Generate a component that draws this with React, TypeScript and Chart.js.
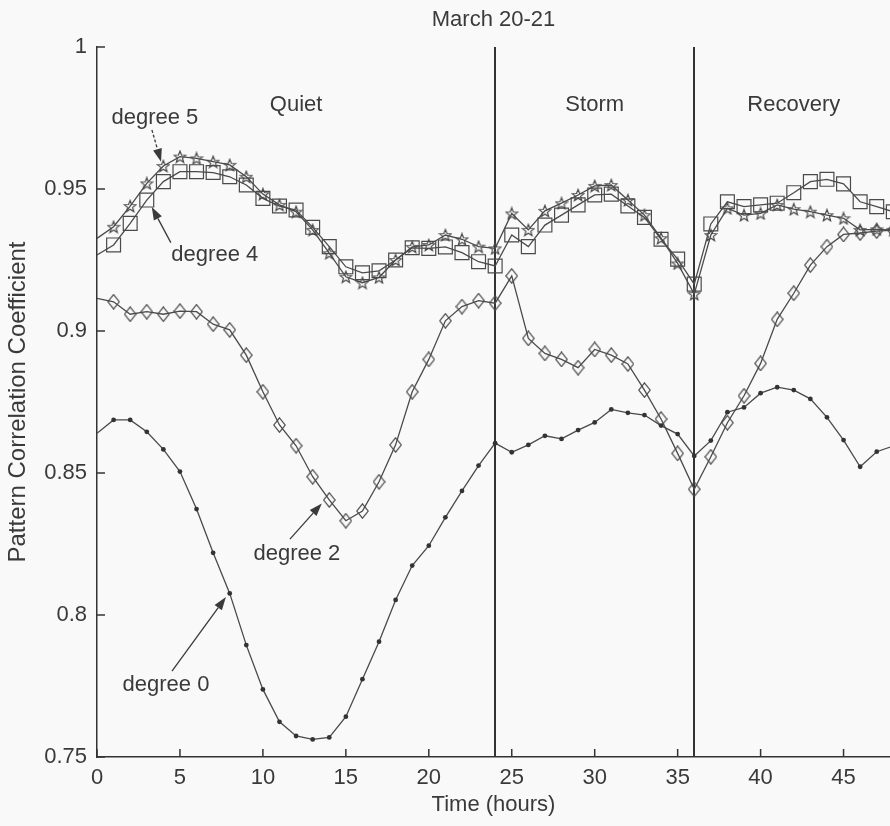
import React, { useEffect, useRef } from "react";
import { Chart, registerables } from "chart.js";

Chart.register(...registerables);

// ---- data ----
const hours = [0, 1, 2, 3, 4, 5, 6, 7, 8, 9, 10, 11, 12, 13, 14, 15, 16, 17, 18, 19, 20, 21, 22, 23, 24, 25, 26, 27, 28, 29, 30, 31, 32, 33, 34, 35, 36, 37, 38, 39, 40, 41, 42, 43, 44, 45, 46, 47, 48];

const degree0 = [0.864, 0.8687, 0.8687, 0.8645, 0.8583, 0.8505, 0.8373, 0.8219, 0.8076, 0.7894, 0.7738, 0.7624, 0.7574, 0.7562, 0.7569, 0.7642, 0.7774, 0.7906, 0.8053, 0.8174, 0.8244, 0.8344, 0.8437, 0.8526, 0.8605, 0.8573, 0.8599, 0.8631, 0.862, 0.8651, 0.8678, 0.8724, 0.8712, 0.8704, 0.8667, 0.8637, 0.856, 0.8614, 0.8714, 0.8731, 0.8781, 0.8802, 0.8792, 0.8761, 0.8696, 0.8616, 0.8522, 0.8575, 0.8595];

const degree2 = [0.9115, 0.9103, 0.9059, 0.9068, 0.9059, 0.907, 0.9068, 0.9024, 0.9004, 0.8915, 0.8786, 0.8669, 0.8596, 0.8487, 0.8405, 0.8332, 0.8366, 0.8469, 0.8599, 0.8786, 0.89, 0.9036, 0.9086, 0.9107, 0.9098, 0.9194, 0.8974, 0.8921, 0.89, 0.8871, 0.8935, 0.8915, 0.8884, 0.8792, 0.869, 0.8569, 0.8443, 0.8557, 0.8677, 0.8772, 0.8886, 0.9041, 0.9133, 0.9232, 0.9297, 0.934, 0.9345, 0.9352, 0.9355];

const degree4 = [0.9268, 0.9303, 0.9379, 0.9461, 0.9526, 0.9561, 0.9561, 0.9558, 0.9543, 0.9514, 0.9467, 0.944, 0.9426, 0.9365, 0.9297, 0.9226, 0.9205, 0.9212, 0.925, 0.9293, 0.9291, 0.9296, 0.9276, 0.9244, 0.9229, 0.9338, 0.9297, 0.9373, 0.9408, 0.9444, 0.9479, 0.9482, 0.944, 0.94, 0.9323, 0.9253, 0.9165, 0.9377, 0.9455, 0.9438, 0.9444, 0.945, 0.9487, 0.9526, 0.9534, 0.9518, 0.9455, 0.9438, 0.942];

const degree5 = [0.9326, 0.9367, 0.944, 0.952, 0.9581, 0.9614, 0.9608, 0.9596, 0.9585, 0.9543, 0.9482, 0.9444, 0.942, 0.9356, 0.9274, 0.9191, 0.917, 0.9189, 0.925, 0.9296, 0.9303, 0.9338, 0.9323, 0.9297, 0.9291, 0.9414, 0.9356, 0.9423, 0.945, 0.9479, 0.9511, 0.9514, 0.9461, 0.9408, 0.9327, 0.9238, 0.913, 0.9338, 0.9432, 0.9408, 0.9414, 0.9444, 0.9429, 0.942, 0.9408, 0.9397, 0.9356, 0.9358, 0.9356];

const xTicks = [0, 5, 10, 15, 20, 25, 30, 35, 40, 45];
const yTicks = [0.75, 0.8, 0.85, 0.9, 0.95, 1];
const xRange = [0, 47.8];
const yRange = [0.75, 1];

const phaseBoundaries = [24, 36];
const phaseLabels = ["Quiet", "Storm", "Recovery"];
const phaseCenters = [12, 30, 42];
const phaseLabelLevel = 0.9796;

const chartTitle = "March 20-21";
const xTitle = "Time (hours)";
const yTitle = "Pattern Correlation Coefficient";

const annotationTexts = ["degree 5", "degree 4", "degree 2", "degree 0"];
const annotationTextPos = [[3.49, 0.975], [7.1, 0.9269], [12.05, 0.8214], [4.16, 0.7753]];
const annotationArrowFrom = [[3.31, 0.9708], [4.45, 0.9311], [11.63, 0.8267], [4.52, 0.7802]];
const annotationArrowTo = [[3.86, 0.9596], [3.3, 0.9437], [13.55, 0.8393], [7.77, 0.8063]];
const annotationDashed = [true, false, false, false];

// ---- styles ----
const FONT = "'Liberation Sans', Arial, Helvetica, sans-serif";
const FONT_SIZE = 22;
const YTITLE_SIZE = 24;
const INK = "#3a3a3a";
const LINE = "#4a4a4a";

function makeStar(size: number, color: string) {
  const c = document.createElement("canvas");
  c.width = size;
  c.height = size;
  const g = c.getContext("2d")!;
  const cx = size / 2;
  const cy = size / 2 + 0.6;
  const R = size / 2 - 0.8;
  const r = R * 0.42;
  g.beginPath();
  for (let i = 0; i < 10; i++) {
    const a = -Math.PI / 2 + (i * Math.PI) / 5;
    const rr = i % 2 === 0 ? R : r;
    g.lineTo(cx + rr * Math.cos(a), cy + rr * Math.sin(a));
  }
  g.closePath();
  g.strokeStyle = color;
  g.lineWidth = 1.2;
  g.stroke();
  return c;
}

function makeDiamond(w: number, h: number, color: string) {
  const c = document.createElement("canvas");
  c.width = w;
  c.height = h;
  const g = c.getContext("2d")!;
  g.beginPath();
  g.moveTo(w / 2, 0.8);
  g.lineTo(w - 0.8, h / 2);
  g.lineTo(w / 2, h - 0.8);
  g.lineTo(0.8, h / 2);
  g.closePath();
  g.strokeStyle = color;
  g.lineWidth = 1.2;
  g.stroke();
  return c;
}

function drawArrow(ctx: CanvasRenderingContext2D, x1: number, y1: number, x2: number, y2: number, dashed: boolean) {
  const ang = Math.atan2(y2 - y1, x2 - x1);
  const headLen = 13;
  const headW = 4.5;
  const bx = x2 - headLen * Math.cos(ang);
  const by = y2 - headLen * Math.sin(ang);
  ctx.save();
  ctx.strokeStyle = INK;
  ctx.fillStyle = INK;
  ctx.lineWidth = 1.3;
  if (dashed) ctx.setLineDash([3, 2]);
  ctx.beginPath();
  ctx.moveTo(x1, y1);
  ctx.lineTo(bx, by);
  ctx.stroke();
  ctx.setLineDash([]);
  ctx.beginPath();
  ctx.moveTo(x2, y2);
  ctx.lineTo(bx + headW * Math.sin(ang), by - headW * Math.cos(ang));
  ctx.lineTo(bx - headW * Math.sin(ang), by + headW * Math.cos(ang));
  ctx.closePath();
  ctx.fill();
  ctx.restore();
}

const overlayPlugin = {
  id: "overlay",
  beforeDraw(chart: any) {
    const ctx = chart.ctx;
    ctx.save();
    ctx.fillStyle = "#f9f9f9";
    ctx.fillRect(0, 0, chart.width, chart.height);
    ctx.restore();
  },
  beforeDatasetsDraw(chart: any) {
    const { ctx, chartArea, scales } = chart;
    ctx.save();
    ctx.strokeStyle = "#333";
    ctx.lineWidth = 2;
    phaseBoundaries.forEach((b) => {
      const px = Math.round(scales.x.getPixelForValue(b));
      ctx.beginPath();
      ctx.moveTo(px, chartArea.top);
      ctx.lineTo(px, chartArea.bottom);
      ctx.stroke();
    });
    ctx.restore();
  },
  afterDraw(chart: any) {
    const { ctx, chartArea, scales } = chart;
    const xs = scales.x;
    const ys = scales.y;
    ctx.save();
    // inward tick marks
    ctx.strokeStyle = "#333";
    ctx.lineWidth = 1.5;
    xs.ticks.forEach((t: any) => {
      const px = xs.getPixelForValue(t.value);
      ctx.beginPath();
      ctx.moveTo(px, chartArea.bottom);
      ctx.lineTo(px, chartArea.bottom - 8);
      ctx.stroke();
    });
    ys.ticks.forEach((t: any) => {
      const py = ys.getPixelForValue(t.value);
      ctx.beginPath();
      ctx.moveTo(chartArea.left, py);
      ctx.lineTo(chartArea.left + 8, py);
      ctx.stroke();
    });
    // phase labels
    ctx.fillStyle = INK;
    ctx.font = `${FONT_SIZE}px ${FONT}`;
    ctx.textAlign = "center";
    ctx.textBaseline = "middle";
    phaseLabels.forEach((lab, i) => {
      ctx.fillText(lab, xs.getPixelForValue(phaseCenters[i]), ys.getPixelForValue(phaseLabelLevel));
    });
    // annotations
    annotationTexts.forEach((txt, i) => {
      ctx.fillStyle = INK;
      ctx.fillText(txt, xs.getPixelForValue(annotationTextPos[i][0]), ys.getPixelForValue(annotationTextPos[i][1]));
      drawArrow(
        ctx,
        xs.getPixelForValue(annotationArrowFrom[i][0]),
        ys.getPixelForValue(annotationArrowFrom[i][1]),
        xs.getPixelForValue(annotationArrowTo[i][0]),
        ys.getPixelForValue(annotationArrowTo[i][1]),
        annotationDashed[i]
      );
    });
    ctx.restore();
  },
};

export default function App() {
  const ref = useRef<HTMLCanvasElement | null>(null);

  useEffect(() => {
    if (!ref.current) return;
    const star = makeStar(14, LINE);
    const diamond = makeDiamond(13, 16, LINE);
    const toPts = (arr: number[]) => hours.map((h, i) => ({ x: h, y: arr[i] }));
    const hideFirst = (r: number) => (c: any) => (c.dataIndex === 0 ? 0 : r);

    const common = {
      borderColor: LINE,
      borderWidth: 1.3,
      tension: 0,
      pointBorderColor: LINE,
      pointBorderWidth: 1.2,
    };

    const chart = new Chart(ref.current, {
      type: "line",
      data: {
        datasets: [
          {
            ...common,
            label: "degree 0",
            data: toPts(degree0),
            pointStyle: "circle",
            pointRadius: hideFirst(2.4),
            pointBackgroundColor: "#333",
            pointBorderWidth: 0,
          },
          {
            ...common,
            label: "degree 2",
            data: toPts(degree2),
            pointStyle: diamond,
            pointRadius: hideFirst(6),
          },
          {
            ...common,
            label: "degree 4",
            data: toPts(degree4),
            pointStyle: "rect",
            pointRadius: hideFirst(9.8),
            pointBackgroundColor: "rgba(0,0,0,0)",
          },
          {
            ...common,
            label: "degree 5",
            data: toPts(degree5),
            pointStyle: star,
            pointRadius: hideFirst(6),
          },
        ],
      } as any,
      options: {
        responsive: false,
        animation: false,
        devicePixelRatio: 1,
        layout: { padding: 0, autoPadding: false },
        events: [],
        plugins: {
          legend: { display: false },
          tooltip: { enabled: false },
          title: {
            display: true,
            text: chartTitle,
            fullSize: false,
            color: INK,
            font: { family: FONT, size: FONT_SIZE, weight: "normal", lineHeight: 1.2 },
            padding: { top: 7, bottom: 13.6 },
          },
        },
        scales: {
          x: {
            type: "linear",
            min: xRange[0],
            max: xRange[1],
            grid: { display: false, drawTicks: false },
            border: { display: true, color: "#333", width: 1.5 },
            afterBuildTicks: (s: any) => {
              s.ticks = xTicks.map((v) => ({ value: v }));
            },
            afterFit: (s: any) => {
              s.height = 69;
            },
            ticks: {
              color: INK,
              padding: 8,
              maxRotation: 0,
              autoSkip: false,
              font: { family: FONT, size: FONT_SIZE },
              callback: (v: any) => String(v),
            },
            title: {
              display: true,
              text: xTitle,
              color: INK,
              font: { family: FONT, size: FONT_SIZE, lineHeight: 1.2 },
              padding: { top: 0, bottom: 8 },
            },
          },
          y: {
            type: "linear",
            min: yRange[0],
            max: yRange[1],
            grid: { display: false, drawTicks: false },
            border: { display: true, color: "#333", width: 1.5 },
            afterBuildTicks: (s: any) => {
              s.ticks = yTicks.map((v) => ({ value: v }));
            },
            afterFit: (s: any) => {
              s.width = 97;
            },
            ticks: {
              color: INK,
              padding: 10,
              autoSkip: false,
              font: { family: FONT, size: FONT_SIZE },
              callback: (v: any) => String(Number(Number(v).toFixed(2))),
            },
            title: {
              display: true,
              text: yTitle,
              color: INK,
              font: { family: FONT, size: YTITLE_SIZE, lineHeight: 1.2 },
              padding: { top: 4, bottom: 0 },
            },
          },
        },
      } as any,
      plugins: [overlayPlugin],
    });
    return () => chart.destroy();
  }, []);

  return (
    <div style={{ position: "absolute", left: 0, top: 0, width: 890, height: 826 }}>
      <canvas ref={ref} width={890} height={826} style={{ display: "block" }} />
    </div>
  );
}
